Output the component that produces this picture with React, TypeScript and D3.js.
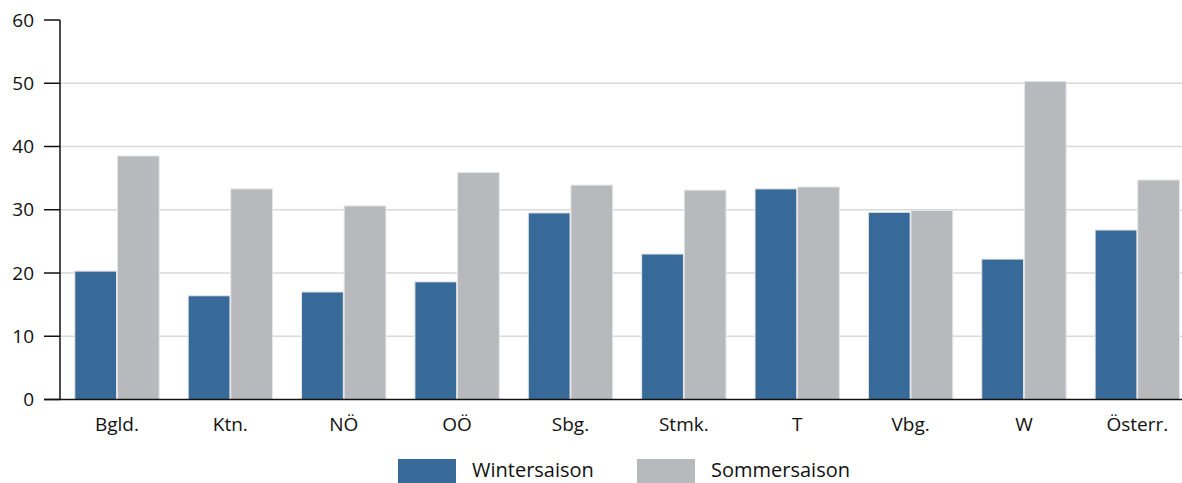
import React from "react";
import * as d3 from "d3";

const categories = ["Bgld.", "Ktn.", "NÖ", "OÖ", "Sbg.", "Stmk.", "T", "Vbg.", "W", "Österr."];
const winter = [20.3, 16.4, 17.0, 18.6, 29.5, 23.0, 33.3, 29.6, 22.2, 26.8];
const summer = [38.5, 33.3, 30.6, 35.9, 33.9, 33.1, 33.6, 29.9, 50.3, 34.7];
const seriesNames = ["Wintersaison", "Sommersaison"];
const yTicks = [0, 10, 20, 30, 40, 50, 60];

const W = 1182;
const H = 483;
const BLUE = "#376a98";
const GRAY = "#b8b9bd";
const FONT = "'Open Sans', 'Liberation Sans', sans-serif";

export default function App() {
  const x0 = d3.scaleBand<string>().domain(categories).range([60.3, 1194]).paddingInner(0).paddingOuter(0);
  const x1 = d3.scaleBand<string>().domain(seriesNames).range([14.5, x0.bandwidth() - 14.5]).paddingInner(0.02).paddingOuter(0);
  const y = d3.scaleLinear().domain([0, 60]).range([399.5, 20]);
  const values = [winter, summer];
  const colors = [BLUE, GRAY];

  return (
    <svg width={W} height={H} style={{ position: "absolute", left: 0, top: 0 }} fontFamily={FONT}>
      <rect width={W} height={H} fill="#fff" />
      {yTicks.filter((t) => t > 0 && t < 60).map((t) => (
        <line key={t} x1={60} x2={W} y1={y(t)} y2={y(t)} stroke="#d9d9d9" strokeWidth={1.5} />
      ))}
      {categories.map((c, i) => (
        <g key={c}>
          {seriesNames.map((s, j) => (
            <rect
              key={s}
              x={(x0(c) as number) + (x1(s) as number)}
              y={y(values[j][i])}
              width={x1.bandwidth()}
              height={y(0) - y(values[j][i])}
              fill={colors[j]}
              stroke="#e6e6e6"
              strokeWidth={1}
            />
          ))}
          <text x={(x0(c) as number) + x0.bandwidth() / 2} y={431} textAnchor="middle" fontSize={19} fill="#111">
            {c}
          </text>
        </g>
      ))}
      <line x1={60} x2={60} y1={y(60)} y2={y(0)} stroke="#111" strokeWidth={1.5} />
      <line x1={44} x2={W} y1={y(0)} y2={y(0)} stroke="#111" strokeWidth={1.5} />
      {yTicks.map((t) => (
        <g key={t}>
          <line x1={44} x2={60} y1={y(t)} y2={y(t)} stroke="#111" strokeWidth={1.5} />
          <text x={34} y={y(t) + 6.5} textAnchor="end" fontSize={19} fill="#111">
            {t}
          </text>
        </g>
      ))}
      {seriesNames.map((s, j) => {
        const lx = [398, 637][j];
        return (
          <g key={s}>
            <rect x={lx} y={459} width={58} height={26} fill={colors[j]} />
            <text x={lx + 74} y={477} fontSize={20} fill="#111">
              {s}
            </text>
          </g>
        );
      })}
    </svg>
  );
}
